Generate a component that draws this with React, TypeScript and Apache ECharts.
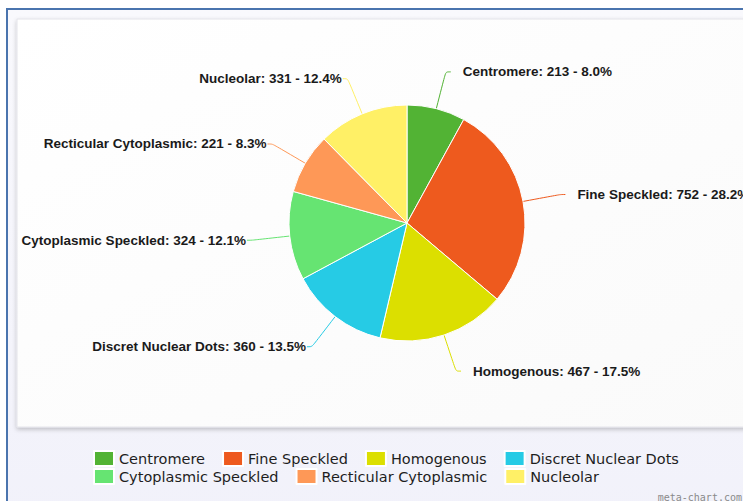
import React, { useEffect, useRef } from "react";
import * as echarts from "echarts";

const categories = [
  "Centromere",
  "Fine Speckled",
  "Homogenous",
  "Discret Nuclear Dots",
  "Cytoplasmic Speckled",
  "Recticular Cytoplasmic",
  "Nucleolar",
];
const values = [213, 752, 467, 360, 324, 221, 331];
const colors = ["#52b334", "#ee5a1e", "#dcdf00", "#26cbe5", "#66e472", "#fe9857", "#fff066"];
const legendRow1 = categories.slice(0, 4);
const legendRow2 = categories.slice(4);
const watermark = "meta-chart.com";

export default function App() {
  const ref = useRef<HTMLDivElement>(null);
  useEffect(() => {
    const chart = echarts.init(ref.current!, null, { renderer: "svg" });
    const total = values.reduce((a, b) => a + b, 0);
    const legendBase = {
      left: 93,
      orient: "horizontal",
      itemWidth: 20,
      itemHeight: 15,
      itemGap: 17,
      icon: "rect",
      selectedMode: false,
      padding: 0,
      textStyle: { fontSize: 14.5, fontFamily: "'DejaVu Sans', sans-serif", color: "#1e1e1e" },
    };
    chart.setOption({
      animation: false,
      graphic: [
        {
          type: "rect",
          z: -10,
          silent: true,
          shape: { x: 7, y: 9, width: 801, height: 540 },
          style: {
            fill: new echarts.graphic.LinearGradient(0, 0, 0, 1, [
              { offset: 0, color: "#f9f9fd" },
              { offset: 1, color: "#f1f1fa" },
            ]),
            stroke: "#4a74ae",
            lineWidth: 2,
          },
        },
        {
          type: "rect",
          z: -9,
          silent: true,
          shape: { x: 17, y: 19, width: 780, height: 408 },
          style: {
            fill: new echarts.graphic.LinearGradient(0, 0, 1, 1, [
              { offset: 0, color: "#ffffff" },
              { offset: 1, color: "#fafafa" },
            ]),
            stroke: "#e4e4ea",
            lineWidth: 1,
            shadowBlur: 4,
            shadowOffsetY: 2,
            shadowColor: "rgba(0,0,0,0.22)",
          },
        },
        {
          type: "text",
          z: -5,
          silent: true,
          x: 742,
          y: 497,
          style: {
            text: watermark,
            fill: "#8a8a8a",
            fontSize: 10,
            fontFamily: "'DejaVu Sans Mono', monospace",
            textAlign: "right",
            textVerticalAlign: "middle",
          },
        },
      ],
      legend: [
        { ...legendBase, top: 450, data: legendRow1 },
        { ...legendBase, top: 468, data: legendRow2 },
      ],
      series: [
        {
          type: "pie",
          center: [407, 223],
          radius: 118,
          startAngle: 90,
          clockwise: true,
          data: categories.map((name, i) => ({
            name,
            value: values[i],
            itemStyle: { color: colors[i] },
          })),
          itemStyle: { borderColor: "#ffffff", borderWidth: 1 },
          label: {
            show: true,
            position: "outside",
            formatter: (p: any) => `${p.name}: ${p.value} - ${((p.value / total) * 100).toFixed(1)}%`,
            fontSize: 13.5,
            fontWeight: "bold",
            fontFamily: "'Liberation Sans', Arial, sans-serif",
            color: "#1a1a1a",
            distanceToLabelLine: 1,
            padding: [7, 0, 0, 11],
          },
          labelLine: {
            show: true,
            length: 38,
            length2: 5,
            smooth: 0.3,
            lineStyle: { width: 1 },
          },
          emphasis: { disabled: true },
        },
      ],
    });
    return () => chart.dispose();
  }, []);
  return (
    <div
      style={{
        position: "fixed",
        left: 0,
        top: 0,
        width: 743,
        height: 501,
        overflow: "hidden",
        background: "#ffffff",
      }}
    >
      <div ref={ref} style={{ width: 815, height: 501 }} />
    </div>
  );
}
